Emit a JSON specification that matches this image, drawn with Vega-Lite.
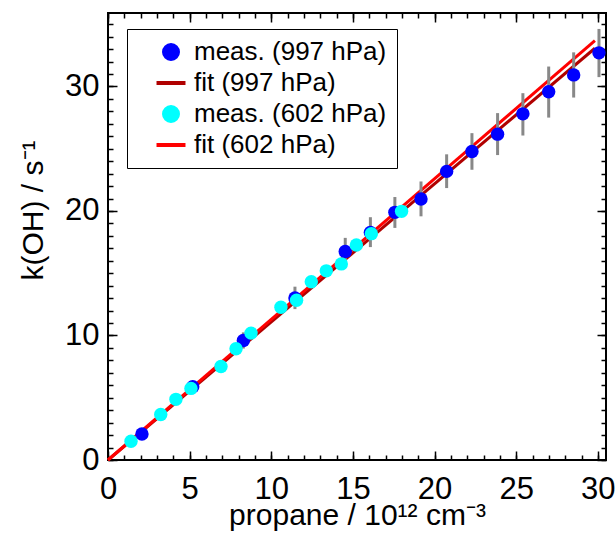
{
  "$schema": "https://vega.github.io/schema/vega-lite/v6.json",
  "width": 498,
  "height": 447,
  "autosize": "none",
  "padding": {"left": 108, "top": 13, "right": 10, "bottom": 80},
  "background": "white",
  "datasets": {
    "fit": [
      {"series": "fit (997 hPa)", "x": 0, "y": 0},
      {"series": "fit (997 hPa)", "x": 29.82, "y": 33.07},
      {"series": "fit (602 hPa)", "x": 0, "y": 0},
      {"series": "fit (602 hPa)", "x": 29.82, "y": 33.68}
    ],
    "m997": [
      {"series": "meas. (997 hPa)", "x": 2.08, "y": 2.09, "lo": 1.94, "hi": 2.24},
      {"series": "meas. (997 hPa)", "x": 5.19, "y": 5.89, "lo": 5.49, "hi": 6.29},
      {"series": "meas. (997 hPa)", "x": 8.29, "y": 9.6, "lo": 8.95, "hi": 10.25},
      {"series": "meas. (997 hPa)", "x": 11.45, "y": 13.02, "lo": 12.12, "hi": 13.92},
      {"series": "meas. (997 hPa)", "x": 14.53, "y": 16.74, "lo": 15.64, "hi": 17.84},
      {"series": "meas. (997 hPa)", "x": 16.07, "y": 18.28, "lo": 17.1, "hi": 19.5},
      {"series": "meas. (997 hPa)", "x": 17.57, "y": 19.89, "lo": 18.64, "hi": 21.12},
      {"series": "meas. (997 hPa)", "x": 19.17, "y": 20.96, "lo": 19.57, "hi": 22.37},
      {"series": "meas. (997 hPa)", "x": 20.74, "y": 23.18, "lo": 21.84, "hi": 24.55},
      {"series": "meas. (997 hPa)", "x": 22.29, "y": 24.78, "lo": 23.31, "hi": 26.25},
      {"series": "meas. (997 hPa)", "x": 23.86, "y": 26.17, "lo": 24.49, "hi": 27.86},
      {"series": "meas. (997 hPa)", "x": 25.41, "y": 27.8, "lo": 26.06, "hi": 29.46},
      {"series": "meas. (997 hPa)", "x": 26.99, "y": 29.57, "lo": 27.5, "hi": 31.6},
      {"series": "meas. (997 hPa)", "x": 28.52, "y": 30.93, "lo": 29.11, "hi": 32.74},
      {"series": "meas. (997 hPa)", "x": 30.07, "y": 32.7, "lo": 30.75, "hi": 34.62}
    ],
    "m602": [
      {"series": "meas. (602 hPa)", "x": 1.41, "y": 1.5},
      {"series": "meas. (602 hPa)", "x": 3.23, "y": 3.66},
      {"series": "meas. (602 hPa)", "x": 4.16, "y": 4.87},
      {"series": "meas. (602 hPa)", "x": 5.08, "y": 5.75},
      {"series": "meas. (602 hPa)", "x": 6.92, "y": 7.51},
      {"series": "meas. (602 hPa)", "x": 7.84, "y": 8.93},
      {"series": "meas. (602 hPa)", "x": 8.76, "y": 10.19},
      {"series": "meas. (602 hPa)", "x": 10.59, "y": 12.27},
      {"series": "meas. (602 hPa)", "x": 11.55, "y": 12.83},
      {"series": "meas. (602 hPa)", "x": 12.45, "y": 14.31},
      {"series": "meas. (602 hPa)", "x": 13.37, "y": 15.19},
      {"series": "meas. (602 hPa)", "x": 14.29, "y": 15.75},
      {"series": "meas. (602 hPa)", "x": 15.21, "y": 17.27},
      {"series": "meas. (602 hPa)", "x": 16.13, "y": 18.18},
      {"series": "meas. (602 hPa)", "x": 17.98, "y": 19.97}
    ]
  },
  "resolve": {"axis": {"x": "independent", "y": "independent"}},
  "layer": [
    {
      "data": {"name": "fit"},
      "mark": {"type": "line", "strokeWidth": 3},
      "encoding": {
        "x": {"field": "x", "type": "quantitative",
          "scale": {"domain": [0, 30.5], "nice": false, "zero": false},
          "axis": {"orient": "bottom", "values": [0, 5, 10, 15, 20, 25, 30], "tickSize": -9, "labelPadding": 23, "title": "propane / 10¹² cm⁻³", "titleY": 64, "titleBaseline": "alphabetic"}},
        "y": {"field": "y", "type": "quantitative",
          "scale": {"domain": [0, 35.9], "nice": false, "zero": false},
          "axis": {"orient": "left", "values": [0, 10, 20, 30], "tickSize": -9, "labelPadding": 18, "title": "k(OH) / s⁻¹", "titleX": -66, "titleY": 197, "titleAngle": 270, "titleBaseline": "alphabetic", "titleAlign": "center"}},
        "color": {"field": "series", "type": "nominal",
          "scale": {"domain": ["meas. (997 hPa)", "fit (997 hPa)", "meas. (602 hPa)", "fit (602 hPa)"], "range": ["#0000FF", "#B00000", "#00FFFF", "#FF0000"]},
          "legend": {
            "orient": "none", "legendX": 19, "legendY": 16, "title": null,
            "padding": 10, "strokeColor": "black", "fillColor": "white",
            "labelFont": "Liberation Sans", "labelFontSize": 26, "labelColor": "black", "labelLimit": 400,
            "symbolSize": 196, "symbolOffset": 21, "labelOffset": 10, "rowPadding": 3,
            "encode": {"symbols": {"update": {
              "stroke": {"scale": "color", "field": "value"},
              "strokeWidth": {"value": 4},
              "opacity": {"value": 1}
            }}}
          }}
      }
    },
    {
      "data": {"name": "m997"},
      "mark": {"type": "rule", "color": "#888888", "strokeWidth": 3},
      "encoding": {
        "x": {"field": "x", "type": "quantitative",
          "axis": {"orient": "bottom", "values": [0,1,2,3,4,5,6,7,8,9,10,11,12,13,14,15,16,17,18,19,20,21,22,23,24,25,26,27,28,29,30], "tickSize": -5, "labels": false, "title": null}},
        "y": {"field": "lo", "type": "quantitative",
          "axis": {"orient": "left", "values": [0,1,2,3,4,5,6,7,8,9,10,11,12,13,14,15,16,17,18,19,20,21,22,23,24,25,26,27,28,29,30,31,32,33,34,35], "tickSize": -5, "labels": false, "title": null}},
        "y2": {"field": "hi"}
      }
    },
    {
      "data": {"name": "m997"},
      "mark": {"type": "point", "filled": true, "opacity": 1, "size": 180},
      "encoding": {
        "x": {"field": "x", "type": "quantitative",
          "axis": {"orient": "top", "values": [0, 5, 10, 15, 20, 25, 30], "tickSize": -9, "labels": false, "title": null}},
        "y": {"field": "y", "type": "quantitative",
          "axis": {"orient": "right", "values": [0, 10, 20, 30], "tickSize": -9, "labels": false, "title": null}},
        "color": {"field": "series", "type": "nominal"},
        "shape": {"field": "series", "type": "nominal",
          "scale": {"domain": ["meas. (997 hPa)", "fit (997 hPa)", "meas. (602 hPa)", "fit (602 hPa)"], "range": ["circle", "M-2.07,0H2.07", "circle", "M-2.07,0H2.07"]}}
      }
    },
    {
      "data": {"name": "m602"},
      "mark": {"type": "point", "filled": true, "opacity": 1, "size": 180},
      "encoding": {
        "x": {"field": "x", "type": "quantitative",
          "axis": {"orient": "top", "values": [0,1,2,3,4,5,6,7,8,9,10,11,12,13,14,15,16,17,18,19,20,21,22,23,24,25,26,27,28,29,30], "tickSize": -5, "labels": false, "title": null}},
        "y": {"field": "y", "type": "quantitative",
          "axis": {"orient": "right", "values": [0,1,2,3,4,5,6,7,8,9,10,11,12,13,14,15,16,17,18,19,20,21,22,23,24,25,26,27,28,29,30,31,32,33,34,35], "tickSize": -5, "labels": false, "title": null}},
        "color": {"field": "series", "type": "nominal"},
        "shape": {"field": "series", "type": "nominal"}
      }
    }
  ],
  "config": {
    "view": {"stroke": "black", "strokeWidth": 2},
    "axis": {
      "domain": false, "grid": false, "ticks": true, "tickColor": "black", "tickWidth": 1.5,
      "labelFont": "Liberation Sans", "labelFontSize": 31, "labelColor": "black",
      "titleFont": "Liberation Sans", "titleFontSize": 30, "titleFontWeight": "normal", "titleColor": "black",
      "labelFlush": false, "labelOverlap": false, "labelBound": false
    }
  }
}
